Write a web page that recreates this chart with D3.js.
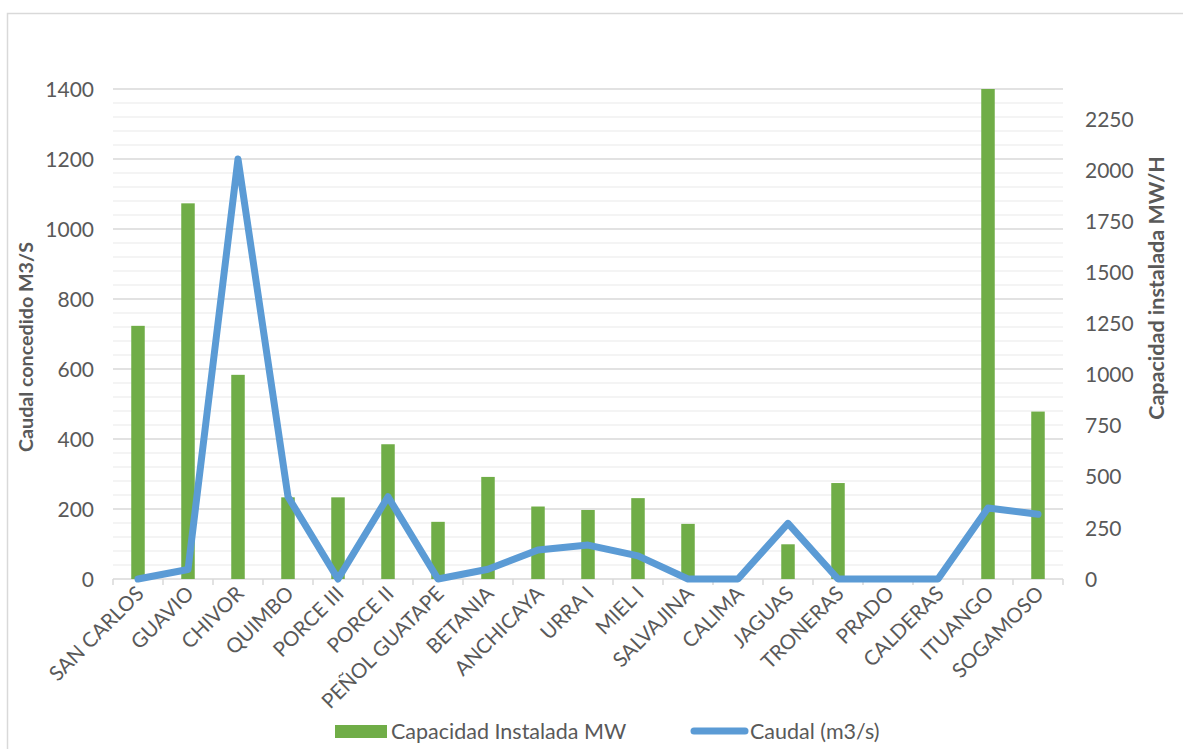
<!DOCTYPE html>
<html>
<head>
<meta charset="utf-8">
<script src="https://cdn.jsdelivr.net/npm/d3@7"></script>
<style>
  html, body { margin: 0; padding: 0; background: #fff; }
  svg { display: block; }
  text { font-family: Lato, "Open Sans", sans-serif; fill: #595959; }
</style>
</head>
<body>
<svg id="chart" width="1183" height="749"></svg>
<script>
// Hydroelectric plants: installed capacity (bars, right axis) and granted flow (line, left axis)
const categories = ["SAN CARLOS", "GUAVIO", "CHIVOR", "QUIMBO", "PORCE III", "PORCE II",
  "PEÑOL GUATAPE", "BETANIA", "ANCHICAYA", "URRA I", "MIEL I", "SALVAJINA", "CALIMA",
  "JAGUAS", "TRONERAS", "PRADO", "CALDERAS", "ITUANGO", "SOGAMOSO"];
const capacidadMW = [1240, 1840, 1000, 400, 400, 660, 280, 500, 355, 338, 396, 270, 0,
  170, 470, 0, 0, 2400, 820];
const caudalM3s = [0, 27, 1200, 235, 0, 235, 0, 28, 83, 97, 66, 0, 0,
  159, 0, 0, 0, 203, 185];
const leftTicks = [0, 200, 400, 600, 800, 1000, 1200, 1400];
const rightTicks = [0, 250, 500, 750, 1000, 1250, 1500, 1750, 2000, 2250];

const svg = d3.select("#chart");
const plot = { left: 113, right: 1063, top: 89, bottom: 579 };

// outer chart border
svg.append("rect")
  .attr("x", 7.5).attr("y", 13.5).attr("width", 1200).attr("height", 760)
  .attr("fill", "none").attr("stroke", "#d9d9d9").attr("stroke-width", 1.5);

const x = d3.scaleBand().domain(categories).range([plot.left, plot.right]).paddingInner(0).paddingOuter(0);
const yLeft = d3.scaleLinear().domain([0, 1400]).range([plot.bottom, plot.top]);
const yRight = d3.scaleLinear().domain([0, 2400]).range([plot.bottom, plot.top]);

// minor gridlines
const minor = d3.range(40, 1400, 40).filter(v => v % 200 !== 0);
svg.append("g").selectAll("line").data(minor).join("line")
  .attr("x1", plot.left).attr("x2", plot.right)
  .attr("y1", d => yLeft(d)).attr("y2", d => yLeft(d))
  .attr("stroke", "#f0f0f0").attr("stroke-width", 1.5);

// major gridlines
svg.append("g").selectAll("line").data(leftTicks.slice(1)).join("line")
  .attr("x1", plot.left).attr("x2", plot.right)
  .attr("y1", d => yLeft(d)).attr("y2", d => yLeft(d))
  .attr("stroke", "#d9d9d9").attr("stroke-width", 1.5);

// category axis
const xAxis = svg.append("g");
xAxis.append("line")
  .attr("x1", plot.left).attr("x2", plot.right)
  .attr("y1", plot.bottom).attr("y2", plot.bottom)
  .attr("stroke", "#d9d9d9").attr("stroke-width", 1.5);
const boundaries = categories.map(c => x(c)).concat([plot.right]);
xAxis.selectAll("line.tick").data(boundaries).join("line").attr("class", "tick")
  .attr("x1", d => d).attr("x2", d => d)
  .attr("y1", plot.bottom).attr("y2", plot.bottom + 6)
  .attr("stroke", "#d9d9d9").attr("stroke-width", 1.5);

xAxis.selectAll("text").data(categories).join("text")
  .attr("transform", d => `translate(${x(d) + x.bandwidth() / 2 + 7},${plot.bottom + 16}) rotate(-45)`)
  .attr("text-anchor", "end")
  .attr("font-size", 20.5)
  .text(d => d);

// bars: installed capacity (right axis)
const barW = 13.5;
svg.append("g").selectAll("rect").data(categories).join("rect")
  .attr("x", (d) => x(d) + x.bandwidth() / 2 - barW / 2)
  .attr("width", barW)
  .attr("y", (d, i) => yRight(capacidadMW[i]))
  .attr("height", (d, i) => plot.bottom - yRight(capacidadMW[i]))
  .attr("fill", "#70ad47");

// line: granted flow (left axis)
const line = d3.line()
  .x((d, i) => x(categories[i]) + x.bandwidth() / 2)
  .y(d => yLeft(d));
svg.append("path")
  .datum(caudalM3s)
  .attr("d", line)
  .attr("fill", "none")
  .attr("stroke", "#5b9bd5")
  .attr("stroke-width", 7)
  .attr("stroke-linejoin", "round")
  .attr("stroke-linecap", "round");

// left tick labels
svg.append("g").selectAll("text").data(leftTicks).join("text")
  .attr("x", 94).attr("y", d => yLeft(d))
  .attr("dy", "0.36em")
  .attr("text-anchor", "end")
  .attr("font-size", 21)
  .text(d => d);

// right tick labels
svg.append("g").selectAll("text").data(rightTicks).join("text")
  .attr("x", 1085).attr("y", d => yRight(d))
  .attr("dy", "0.36em")
  .attr("text-anchor", "start")
  .attr("font-size", 21)
  .text(d => d);

// axis titles
svg.append("text")
  .attr("transform", "translate(33,347) rotate(-90)")
  .attr("text-anchor", "middle")
  .attr("font-size", 19.7).attr("font-weight", "bold")
  .text("Caudal concedido M3/S");
svg.append("text")
  .attr("transform", "translate(1164,288) rotate(-90)")
  .attr("text-anchor", "middle")
  .attr("font-size", 21.5).attr("font-weight", "bold")
  .text("Capacidad instalada MW/H");

// legend
const legend = svg.append("g");
legend.append("rect")
  .attr("x", 335).attr("y", 725).attr("width", 52).attr("height", 13)
  .attr("fill", "#70ad47");
legend.append("text")
  .attr("x", 391).attr("y", 739)
  .attr("font-size", 21.5)
  .text("Capacidad Instalada MW");
legend.append("line")
  .attr("x1", 694).attr("x2", 745).attr("y1", 731).attr("y2", 731)
  .attr("stroke", "#5b9bd5").attr("stroke-width", 7).attr("stroke-linecap", "round");
legend.append("text")
  .attr("x", 750).attr("y", 739)
  .attr("font-size", 21.5)
  .text("Caudal (m3/s)");
</script>
</body>
</html>
